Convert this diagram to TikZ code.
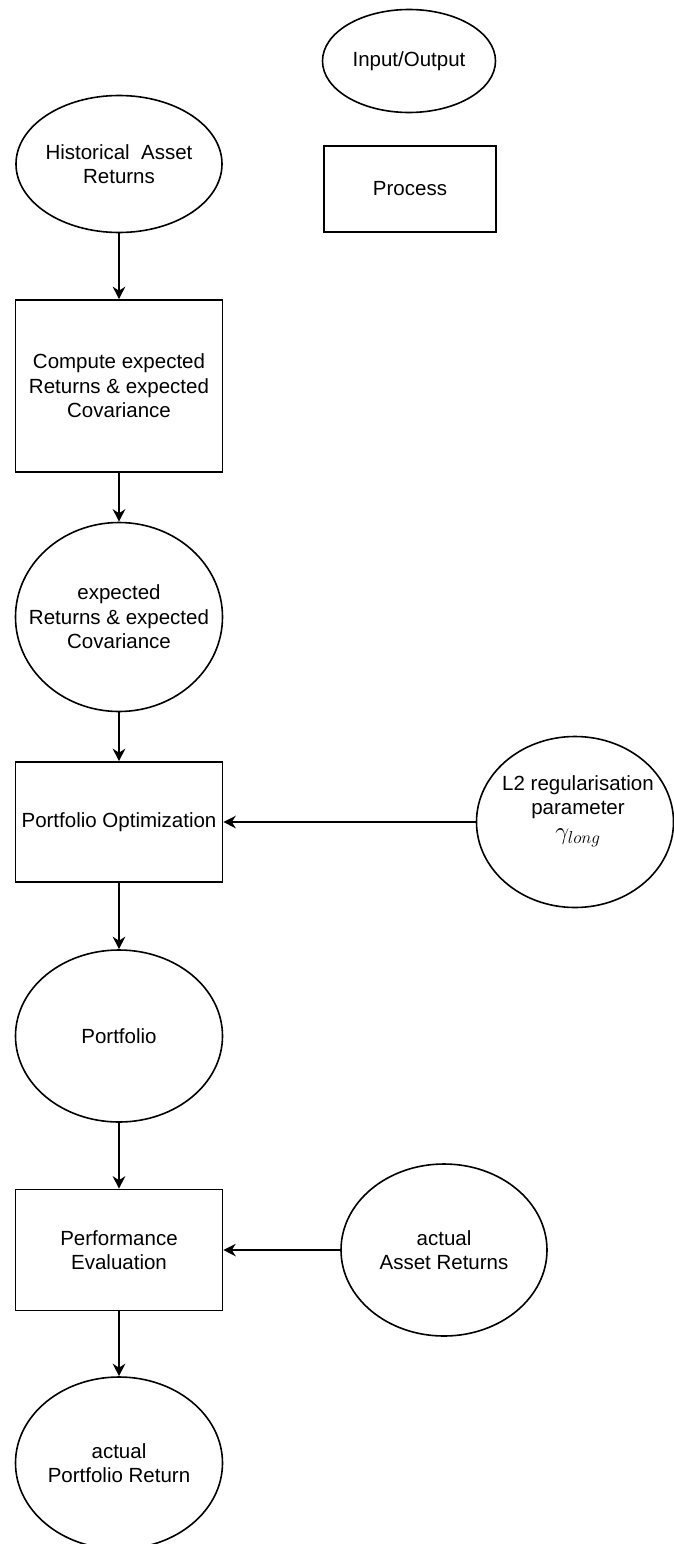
\documentclass[tikz,border=0pt]{standalone}
\usepackage{fontspec}
\setmainfont{Liberation Sans}
\usetikzlibrary{shapes.geometric,arrows.meta}
\begin{document}
\begin{tikzpicture}[x=1pt,y=-1pt,
  every node/.style={font=\fontsize{20.5}{24.5}\selectfont, align=center, inner sep=0pt},
  every label/.style={font=\fontsize{20.5}{24.5}\selectfont, align=center, inner sep=0pt},
  io/.style={draw, ellipse, line width=1.6pt},
  proc/.style={draw, rectangle, line width=1.6pt},
  flow/.style={-{Stealth[length=12.5pt,width=12.5pt,inset=4pt]}, line width=1.6pt}]
\useasboundingbox (0,0) rectangle (673,1544);

% legend
\node[io, minimum width=173pt, minimum height=103pt, label=center:{Input/Output}] (legio) at (409,61) {};
\node[proc, minimum width=172pt, minimum height=86pt] (legproc) at (410,189) {Process};

% main flow
\node[io, minimum width=206pt, minimum height=137pt, label=center:{Historical\ \ Asset\\Returns}] (hist) at (119,164) {};
\node[proc, minimum width=207pt, minimum height=172pt] (comp) at (119,386) {Compute expected\\Returns \& expected\\Covariance};
\node[io, minimum width=207pt, minimum height=189pt, label=center:{expected\\Returns \& expected\\Covariance}] (expc) at (119,617) {};
\node[proc, minimum width=207pt, minimum height=120pt] (opt) at (119,822) {Portfolio Optimization};
\node[io, minimum width=197pt, minimum height=171pt, label={[yshift=11pt,xshift=3pt]center:{L2 regularisation\\parameter\\{\fontsize{24}{24.5}\selectfont$\gamma_{long}$}}}] (l2) at (575,822) {};
\node[io, minimum width=207pt, minimum height=172pt, label=center:{Portfolio}] (port) at (119,1036) {};
\node[proc, minimum width=207pt, minimum height=121pt] (perf) at (119,1250) {Performance\\Evaluation};
\node[io, minimum width=206pt, minimum height=172pt, label=center:{actual\\Asset Returns}] (actasset) at (444,1250) {};
\node[io, minimum width=207pt, minimum height=172pt, label=center:{actual\\Portfolio Return}] (actport) at (119,1463) {};

% connectors
\draw[flow] (hist.south) -- (comp.north);
\draw[flow] (comp.south) -- (expc.north);
\draw[flow] (expc.south) -- (opt.north);
\draw[flow] (l2.west) -- (opt.east);
\draw[flow] (opt.south) -- (port.north);
\draw[flow] (port.south) -- (perf.north);
\draw[flow] (actasset.west) -- (perf.east);
\draw[flow] (perf.south) -- (actport.north);
\end{tikzpicture}
\end{document}
